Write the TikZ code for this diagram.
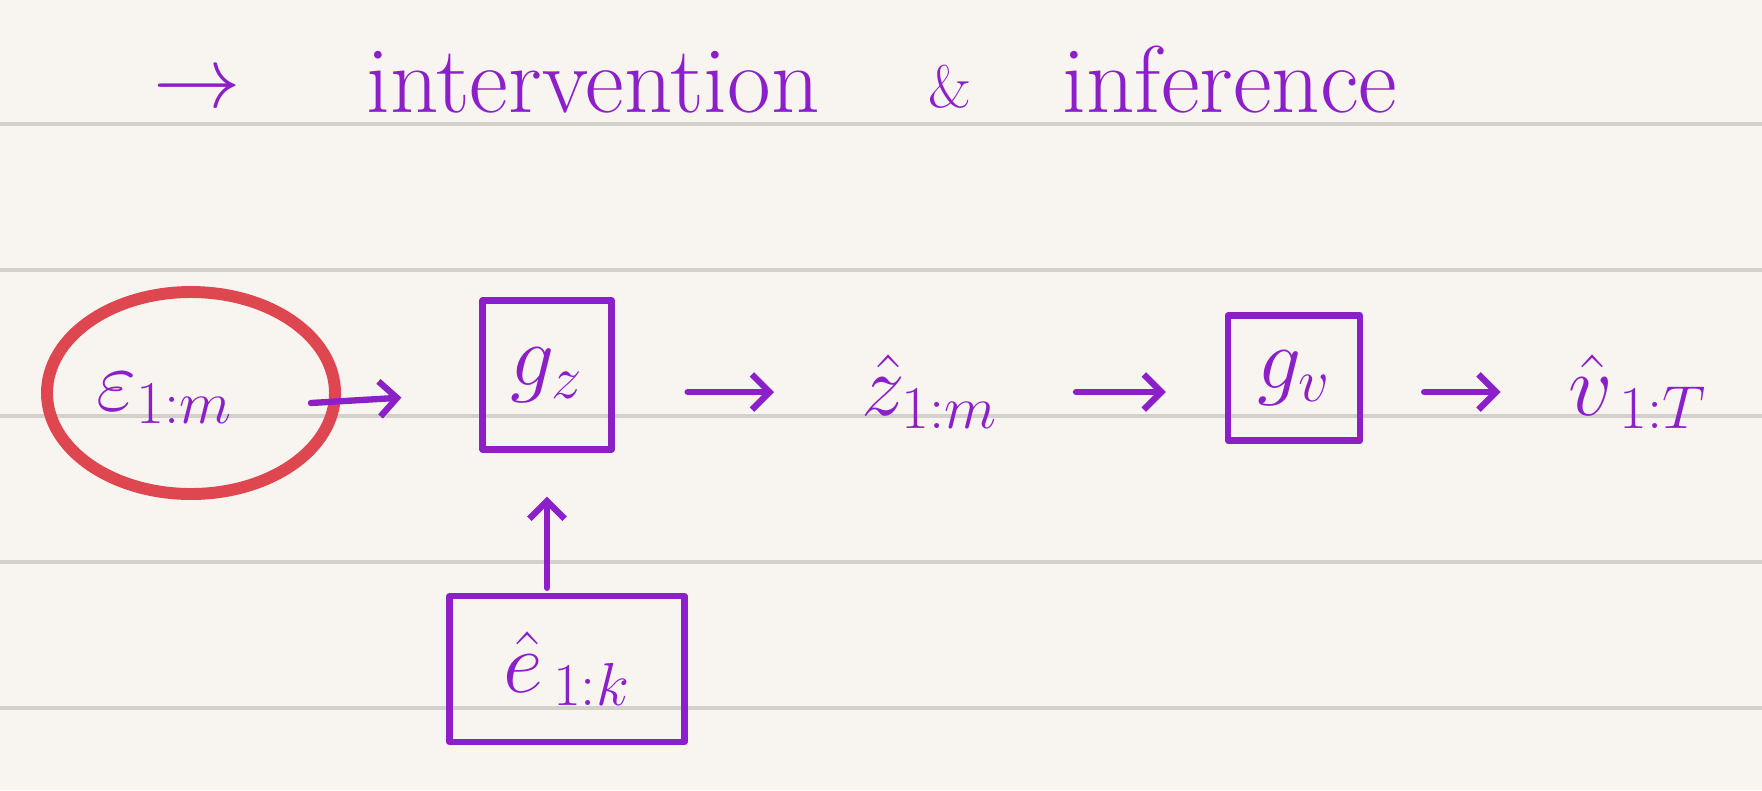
\documentclass[tikz,border=0pt]{standalone}
\usetikzlibrary{arrows.meta,shapes.geometric}
\definecolor{ink}{RGB}{140,32,200}
\definecolor{marker}{RGB}{222,70,80}
\definecolor{paper}{RGB}{248,245,240}
\definecolor{rulecol}{RGB}{212,209,205}
\begin{document}
\begin{tikzpicture}[line cap=round,line join=round,
  pen/.style={ink,line width=1.8pt},
  label/.style={ink,inner sep=2pt,font=\fontsize{24}{28}\selectfont},
  title/.style={ink,inner sep=0pt,anchor=base,font=\fontsize{27}{32}\selectfont},
  box/.style={label,draw=ink,line width=1.8pt,rectangle},
  flow/.style={pen,-{Straight Barb[length=5pt,width=10pt]}}]
\def\W{17.62}
\def\H{7.9}

\useasboundingbox (0,0) rectangle (\W,\H);
\fill[paper] (0,0) rectangle (\W,\H);
\foreach \y in {6.66,5.20,3.74,2.28,0.82}
  \draw[rulecol,line width=1pt] (0,\y) -- (\W,\y);

\node[title] (titlearrow) at (1.97,6.83) {$\rightarrow$};
\node[title] (intervention) at (5.93,6.78) {intervention};
\node[title,font=\fontsize{17}{20}\selectfont] (amp) at (9.5,6.83) {\&};
\node[title] (inference) at (12.3,6.78) {inference};

\node[draw=marker,line width=3.4pt,ellipse,minimum width=2.88cm,minimum height=2.02cm] (eps) at (1.91,3.97) {};
\node[label] (epslbl) at (1.65,3.92) {$\varepsilon_{1:m}$};
\node[box,minimum width=1.29cm,minimum height=1.49cm] (gz) at (5.47,4.15) {$g_z$};
\node[label] (zhat) at (9.3,3.98) {$\hat{z}_{1:m}$};
\node[box,minimum width=1.32cm,minimum height=1.25cm] (gv) at (12.94,4.12) {$g_v$};
\node[label] (vhat) at (16.38,3.98) {$\hat{v}_{\,1:T}$};
\node[box,minimum width=2.35cm,minimum height=1.46cm] (ehat) at (5.67,1.21) {$\hat{e}_{\,1:k}$};

\draw[flow,shorten >=7.8mm] ([xshift=-3mm,yshift=-1mm]eps.east) -- (gz.west |- eps.east);
\draw[flow,shorten <=7.3mm,shorten >=8mm] (gz.east |- zhat.west) -- (zhat.west);
\draw[flow,shorten <=7mm,shorten >=5.9mm] (zhat.east) -- (gv.west |- zhat.east);
\draw[flow,shorten <=6.1mm,shorten >=6mm] (gv.east |- vhat.west) -- (vhat.west);
\draw[flow,shorten <=0.5mm,shorten >=4.4mm] (gz.south |- ehat.north) -- (gz.south);
\end{tikzpicture}
\end{document}
